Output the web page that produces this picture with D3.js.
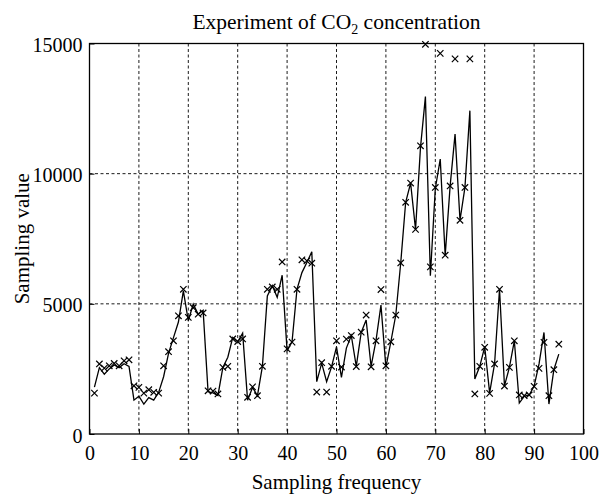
<!DOCTYPE html>
<html>
<head>
<meta charset="utf-8">
<script src="https://cdn.jsdelivr.net/npm/d3@7"></script>
<style>
  body { margin: 0; background: #fff; }
  svg { display: block; font-family: 'Liberation Serif', 'DejaVu Serif', serif; }
  .grid line { stroke: #000; stroke-width: 0.9; stroke-dasharray: 3, 2.5; }
</style>
</head>
<body>
<svg id="chart"></svg>
<script>
// sampling index 1..95
const samples = d3.range(1, 96);

// measured CO2 values (x markers)
const measured = [
  1570, 2690, 2530, 2620, 2710, 2620, 2810, 2850, 1850, 1790,
  1570, 1700, 1600, 1570, 2620, 3160, 3580, 4540, 5560, 4480,
  4850, 4600, 4650, 1660, 1650, 1540, 2560, 2600, 3650, 3550,
  3650, 1410, 1810, 1470, 2600, 5560, 5650, 5560, 6610, 3270,
  3530, 5560, 6690, 6650, 6560, 1610, 2740, 1610, 2600, 3580,
  2570, 3645, 3780, 2590, 3910, 4570, 2580, 3580, 5550, 2620,
  3540, 4570, 6570, 8900, 9640, 7860, 11070, 14970, 6420, 9470,
  14620, 6870, 9530, 14410, 8210, 9470, 14410, 1540, 2600, 3330,
  1560, 2690, 5560, 1840, 2560, 3580, 1500, 1470, 1500, 1830,
  2520, 3520, 1470, 2470, 3450
];

// fitted values (solid line)
const fitted = [
  1800, 2550, 2300, 2500, 2650, 2550, 2700, 2600, 1300, 1450,
  1150, 1400, 1300, 1600, 2200, 3100, 3700, 4300, 5500, 4350,
  4990, 4600, 4750, 1620, 1580, 1480, 2560, 2950, 3710, 3540,
  3875, 1300, 1790, 1470, 2600, 5300, 5700, 5250, 6100, 3200,
  3540, 5560, 6200, 6590, 7000, 2010, 2720, 2010, 2580, 3350,
  2175, 3300, 3780, 2600, 3900, 4380, 2600, 3600, 4950, 2560,
  3540, 4570, 6570, 8900, 9640, 7860, 11000, 12960, 6080, 9420,
  10560, 6860, 9520, 11520, 8210, 9470, 12420, 2110, 2600, 3350,
  1580, 2700, 5560, 1850, 2560, 3580, 1190, 1450, 1500, 1830,
  2690, 3900, 1150, 2470, 3070
];

const xTicks = [0, 10, 20, 30, 40, 50, 60, 70, 80, 90, 100];
const yTicks = [0, 5000, 10000, 15000];

const margin = { top: 43.5, right: 19.5, bottom: 60, left: 89.5 };
const totalW = 603, totalH = 494;
const width = totalW - margin.left - margin.right;
const height = totalH - margin.top - margin.bottom;

const x = d3.scaleLinear().domain([0, 100]).range([0, width]);
const y = d3.scaleLinear().domain([0, 15000]).range([height, 0]);

const svg = d3.select('#chart')
  .attr('width', totalW)
  .attr('height', totalH);

const g = svg.append('g')
  .attr('transform', `translate(${margin.left}, ${margin.top})`);

// dashed grid
g.append('g').attr('class', 'grid')
  .selectAll('line')
  .data(xTicks.filter(d => d > 0 && d < 100))
  .enter().append('line')
  .attr('x1', d => x(d)).attr('x2', d => x(d))
  .attr('y1', 0).attr('y2', height);

g.append('g').attr('class', 'grid')
  .selectAll('line')
  .data(yTicks.filter(d => d > 0 && d < 15000))
  .enter().append('line')
  .attr('x1', 0).attr('x2', width)
  .attr('y1', d => y(d)).attr('y2', d => y(d));

// axes, ticks pointing inwards like matlab
const xAxis = d3.axisBottom(x).tickValues(xTicks).tickSize(-5).tickPadding(12).tickFormat(d3.format('d'));
const yAxis = d3.axisLeft(y).tickValues(yTicks).tickSize(-5).tickPadding(7).tickFormat(d3.format('d'));

g.append('g')
  .attr('transform', `translate(0, ${height})`)
  .call(xAxis)
  .call(a => a.select('.domain').remove())
  .selectAll('text')
  .attr('font-size', 20)
  .attr('font-family', 'Liberation Serif')
  .attr('fill', '#000');

g.append('g')
  .call(yAxis)
  .call(a => a.select('.domain').remove())
  .selectAll('text')
  .attr('font-size', 20)
  .attr('font-family', 'Liberation Serif')
  .attr('fill', '#000')
  .attr('dy', '0.4em');

// frame
g.append('rect')
  .attr('width', width)
  .attr('height', height)
  .attr('fill', 'none')
  .attr('stroke', '#000')
  .attr('stroke-width', 1.3);

// fitted line
const line = d3.line()
  .x((d, i) => x(samples[i]))
  .y(d => y(d));

g.append('path')
  .datum(fitted)
  .attr('d', line)
  .attr('fill', 'none')
  .attr('stroke', '#000')
  .attr('stroke-width', 1.3)
  .attr('stroke-linejoin', 'miter');

// measured markers
const s = 3.2;
g.append('g')
  .selectAll('path')
  .data(measured)
  .enter().append('path')
  .attr('transform', (d, i) => `translate(${x(samples[i])}, ${y(d)})`)
  .attr('d', `M${-s},${-s}L${s},${s}M${-s},${s}L${s},${-s}`)
  .attr('stroke', '#000')
  .attr('stroke-width', 1.2)
  .attr('fill', 'none');

// title and labels
const title = svg.append('text')
  .attr('x', margin.left + width / 2)
  .attr('y', 29)
  .attr('text-anchor', 'middle')
  .attr('font-size', 21.5)
  .attr('fill', '#000');
title.append('tspan').text('Experiment of CO');
title.append('tspan').text('2').attr('font-size', 14).attr('dy', 5);
title.append('tspan').text(' concentration').attr('dy', -5);

svg.append('text')
  .attr('x', margin.left + width / 2)
  .attr('y', 489)
  .attr('text-anchor', 'middle')
  .attr('font-size', 21)
  .attr('fill', '#000')
  .text('Sampling frequency');

svg.append('text')
  .attr('transform', `translate(29, ${margin.top + height / 2}) rotate(-90)`)
  .attr('text-anchor', 'middle')
  .attr('font-size', 21)
  .attr('fill', '#000')
  .text('Sampling value');
</script>
</body>
</html>
